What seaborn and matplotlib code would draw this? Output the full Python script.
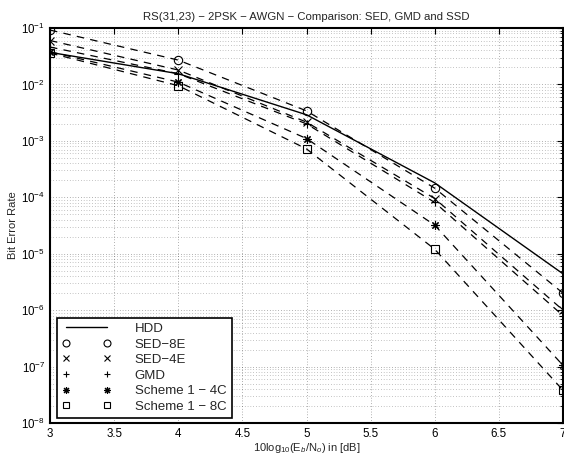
import numpy as np
import pandas as pd
import matplotlib
matplotlib.use("Agg")
import matplotlib.pyplot as plt
import seaborn as sns
from matplotlib.lines import Line2D
from matplotlib.ticker import LogLocator, MultipleLocator, NullFormatter

# Eb/N0 in dB
snr_db = [3, 4, 5, 6, 7]

# bit error rates
ber_hdd = [0.037, 0.0155, 2.9e-3, 1.8e-4, 4.4e-6]
ber_sed8e = [0.092, 0.027, 3.4e-3, 1.45e-4, 2.0e-6]
ber_sed4e = [0.060, 0.018, 2.15e-3, 9.5e-5, 1.0e-6]
ber_gmd = [0.046, 0.0155, 2.0e-3, 8.1e-5, 8.0e-7]
ber_s4c = [0.038, 0.011, 1.1e-3, 3.2e-5, 1.05e-7]
ber_s8c = [0.036, 0.0095, 7.2e-4, 1.2e-5, 3.8e-8]

labels = ["HDD", "SED\u22128E", "SED\u22124E", "GMD", "Scheme 1 \u2212 4C", "Scheme 1 \u2212 8C"]
series = [ber_hdd, ber_sed8e, ber_sed4e, ber_gmd, ber_s4c, ber_s8c]
markers = [None, "o", "x", "+", (8, 2, 0), "s"]

sns.set_theme(style="white")
plt.rcParams["font.family"] = ["Liberation Sans", "DejaVu Sans"]
plt.rcParams["mathtext.fontset"] = "custom"
plt.rcParams["mathtext.rm"] = "Liberation Sans"
plt.rcParams["mathtext.it"] = "Liberation Sans:italic"

fig = plt.figure(figsize=(5.64, 4.53), dpi=100)
ax = fig.add_axes([50 / 564, 30 / 453, 513 / 564, 395 / 453])

df = pd.DataFrame({"snr": snr_db * len(labels),
                   "ber": np.concatenate(series),
                   "scheme": np.repeat(labels, len(snr_db))})

# HDD solid, the others dashed through their markers
for lab, mk in zip(labels, markers):
    sub = df[df["scheme"] == lab]
    if mk is None:
        sns.lineplot(data=sub, x="snr", y="ber", ax=ax, color="black", lw=1.0)
    else:
        sns.lineplot(data=sub, x="snr", y="ber", ax=ax, color="black", lw=0.9,
                     linestyle=(0, (6, 5)))
        sns.lineplot(data=sub, x="snr", y="ber", ax=ax, color="black", linestyle="none",
                     marker=mk, markersize=6, markerfacecolor="none",
                     markeredgecolor="black", markeredgewidth=0.8)

ax.set_yscale("log")
ax.set_xlim(3, 7)
ax.set_ylim(1e-8, 1e-1)
ax.xaxis.set_major_locator(MultipleLocator(0.5))
ax.xaxis.set_major_formatter(plt.FuncFormatter(lambda v, p: f"{v:g}"))
ax.yaxis.set_major_locator(LogLocator(base=10, numticks=20))
ax.yaxis.set_minor_locator(LogLocator(base=10, subs=np.arange(2, 10), numticks=20))
ax.yaxis.set_minor_formatter(NullFormatter())

ax.grid(True, which="major", linestyle=(0, (1, 3)), color="black", lw=0.5, alpha=0.6)
ax.grid(True, which="minor", axis="y", linestyle=(0, (1, 3)), color="black", lw=0.5, alpha=0.45)

ax.tick_params(which="both", direction="in", top=True, right=True, labelsize=8.3, colors="black")
ax.tick_params(which="major", length=4, width=0.8)
ax.tick_params(which="minor", length=2, width=0.6)
for s in ax.spines.values():
    s.set_color("black")
    s.set_linewidth(1.5)

ax.set_title("RS(31,23) \u2212 2PSK \u2212 AWGN \u2212 Comparison: SED, GMD and SSD", fontsize=8.2, pad=6)
ax.set_ylabel("Bit Error Rate", fontsize=8, labelpad=2)
ax.set_xlabel(r"10log$_{10}$(E$_b$/N$_o$) in [dB]", fontsize=8, labelpad=1)

handles = []
for lab, mk in zip(labels, markers):
    if mk is None:
        handles.append(Line2D([], [], color="black", lw=1.0))
    else:
        handles.append(Line2D([], [], color="black", linestyle="none", marker=mk,
                              markersize=5, markerfacecolor="none", markeredgewidth=0.8))
leg = ax.legend(handles, labels, loc="lower left", bbox_to_anchor=(0.0136, 0.0127),
                borderaxespad=0, numpoints=2, handlelength=3.7, handletextpad=1.8,
                labelspacing=0.25, fontsize=9.5, fancybox=False, framealpha=1,
                edgecolor="black", borderpad=0.4)
leg.get_frame().set_linewidth(1.2)

fig.savefig("out.png", dpi=100)
